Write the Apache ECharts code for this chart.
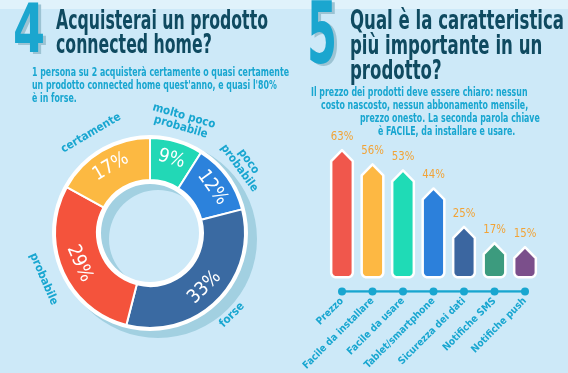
<!DOCTYPE html>
<html>
<head>
<meta charset="utf-8">
<script src="https://cdn.jsdelivr.net/npm/echarts@6/dist/echarts.min.js"></script>
<style>
html,body{margin:0;padding:0;background:#cde9f8;}
#chart{width:568px;height:373px;}
</style>
</head>
<body>
<div id="chart"></div>
<script>
// ---- Donut data (question 4) ----
const donutNames = ['molto poco\nprobabile', 'poco\nprobabile', 'forse', 'probabile', 'certamente'];
const donutValues = [9, 12, 33, 29, 17];
const donutColors = ['#22d8b6', '#2c82dc', '#3a6aa2', '#f4533c', '#fcb942'];

// ---- Bar data (question 5) ----
const barCategories = ['Prezzo', 'Facile da installare', 'Facile da usare', 'Tablet/smartphone', 'Sicurezza dei dati', 'Notifiche SMS', 'Notifiche push'];
const barValues = [63, 56, 53, 44, 25, 17, 15];
const barColors = ['#f0574c', '#fdb843', '#1fdbb6', '#2c80db', '#3b66a0', '#3c9b7e', '#7b4f8b'];

// ---- Texts ----
const title4 = ['Acquisterai un prodotto', 'connected home?'];
const sub4 = ['1 persona su 2 acquisterà certamente o quasi certamente', 'un prodotto connected home quest\'anno, e quasi l\'80%', 'è in forse.'];
const title5 = ['Qual è la caratteristica', 'più importante in un', 'prodotto?'];
const sub5 = ['Il prezzo dei prodotti deve essere chiaro: nessun', 'costo nascosto, nessun abbonamento mensile,', 'prezzo onesto. La seconda parola chiave', 'è FACILE, da installare e usare.'];

// ---- font selection (prefer a condensed face, like the original) ----
const mctx = document.createElement('canvas').getContext('2d');
function tw(text, font) { mctx.font = font; return mctx.measureText(text).width; }
function hasFont(name) {
  const s = 'mmmmmmmmmmlliWWW certamente 0123';
  return tw(s, '40px monospace') !== tw(s, '40px "' + name + '", monospace') ||
         tw(s, '40px serif') !== tw(s, '40px "' + name + '", serif');
}
const condensed = ['Liberation Sans Narrow', 'DejaVu Sans Condensed', 'Roboto Condensed', 'Open Sans Condensed'].find(hasFont);
const FONT = (condensed ? '"' + condensed + '",' : '') + 'Roboto,"Noto Sans",sans-serif';

const CYAN = '#18a6d0';
const DARK = '#0f4a60';
const Y_MIN = -7;

function fitScale(text, font, target) { return target / tw(text, font); }

const chart = echarts.init(document.getElementById('chart'), null, {renderer: 'canvas'});

const F4 = 'bold 68px ' + FONT, F5 = 'bold 86px ' + FONT;
const s4 = fitScale('4', F4, 32), s5 = fitScale('5', F5, 30);
const graphics = [
  {type: 'rect', shape: {x: 0, y: 0, width: 568, height: 9}, style: {fill: '#e0f2fb'}, silent: true},
  {type: 'text', x: 16, y: 36, scaleX: s4, style: {text: '4', font: F4, fill: '#9cc3d3', verticalAlign: 'middle'}},
  {type: 'text', x: 13, y: 34, scaleX: s4, style: {text: '4', font: F4, fill: '#1ba6cf', verticalAlign: 'middle'}},
  {type: 'text', x: 310, y: 43, scaleX: s5, style: {text: '5', font: F5, fill: '#9cc3d3', verticalAlign: 'middle'}},
  {type: 'text', x: 307, y: 41, scaleX: s5, style: {text: '5', font: F5, fill: '#1ba6cf', verticalAlign: 'middle'}}
];
const TF4 = 'bold 26px ' + FONT, TF5 = 'bold 27px ' + FONT, SF = 'bold 11.5px ' + FONT;
const ts4 = fitScale(title4[0], TF4, 212);
const ts5 = fitScale(title5[0], TF5, 214);
const ss = fitScale(sub4[0], SF, 257);
title4.forEach((t, i) => graphics.push({type: 'text', x: 56, y: 22 + i * 24, scaleX: ts4, style: {text: t, font: TF4, fill: DARK, verticalAlign: 'middle'}}));
sub4.forEach((t, i) => graphics.push({type: 'text', x: 32, y: 73 + i * 13, scaleX: ss, style: {text: t, font: SF, fill: CYAN, verticalAlign: 'middle'}}));
title5.forEach((t, i) => graphics.push({type: 'text', x: 350, y: 22 + i * 25, scaleX: ts5, style: {text: t, font: TF5, fill: DARK, verticalAlign: 'middle'}}));
const sub5X = [311, 321, 360, 378];
sub5.forEach((t, i) => graphics.push({type: 'text', x: sub5X[i], y: 93 + i * 13, scaleX: ss, style: {text: t, font: SF, fill: CYAN, verticalAlign: 'middle'}}));

const donutData = donutValues.map((v, i) => ({name: donutNames[i], value: v, itemStyle: {color: donutColors[i]}}));

function renderArrow(params, api) {
  const idx = api.value(0);
  const val = api.value(1);
  const base = api.coord([idx, 0]);
  const top = api.coord([idx, val]);
  const w = api.size([1, 0])[0] * 0.71;
  const tip = 11, r = 5;
  const cx = base[0], x0 = cx - w / 2, x1 = cx + w / 2, yb = base[1], yt = top[1];
  const pts = [[cx, yt], [x1, yt + tip], [x1, yb - r]];
  for (let k = 1; k < 6; k++) { const a = k / 6 * Math.PI / 2; pts.push([x1 - r + r * Math.cos(a), yb - r + r * Math.sin(a)]); }
  pts.push([x0 + r, yb]);
  for (let k = 1; k < 6; k++) { const a = Math.PI / 2 + k / 6 * Math.PI / 2; pts.push([x0 + r + r * Math.cos(a), yb - r + r * Math.sin(a)]); }
  pts.push([x0, yb - r], [x0, yt + tip]);
  return {
    type: 'group',
    children: [
      {type: 'polygon', shape: {points: pts}, style: {fill: barColors[idx], stroke: '#fff', lineWidth: 2.5, lineJoin: 'round'}},
      {type: 'text', x: cx, y: yt - 7, scaleX: 0.9, style: {text: val + '%', font: '12.5px ' + FONT, fill: '#f2a336', align: 'center', verticalAlign: 'bottom'}}
    ]
  };
}

const option = {
  backgroundColor: '#cde9f8',
  animation: false,
  graphic: graphics,
  grid: {left: 342, right: 43, top: 136, bottom: 75},
  xAxis: {
    type: 'category', data: barCategories, boundaryGap: false,
    axisLine: {show: false}, axisTick: {show: false},
    axisLabel: {rotate: 45, margin: 8, color: CYAN, fontFamily: FONT, fontWeight: 'bold', fontSize: 10, interval: 0}
  },
  yAxis: {type: 'value', min: Y_MIN, max: 70, show: false},
  series: [
    {type: 'pie', silent: true, center: [158, 239], radius: [49, 99], startAngle: 90,
     label: {show: false}, labelLine: {show: false}, data: [{value: 1, itemStyle: {color: '#a2d0e1'}}]},
    {type: 'pie', silent: true, center: [150, 233], radius: [49, 98], startAngle: 90,
     label: {show: false}, labelLine: {show: false}, data: [{value: 1, itemStyle: {color: '#ffffff'}}]},
    {type: 'pie', silent: true, center: [150, 233], radius: [53, 95], startAngle: 90, clockwise: true,
     itemStyle: {borderColor: '#fff', borderWidth: 2},
     label: {show: true, position: 'inside', rotate: 'tangential', formatter: '{c}%', color: '#fff', fontFamily: FONT, fontSize: 19},
     labelLine: {show: false}, data: donutData},
    {type: 'pie', silent: true, center: [150, 233], radius: [104, 122], startAngle: 90, clockwise: true,
     itemStyle: {color: 'rgba(0,0,0,0)'},
     label: {show: true, position: 'inside', rotate: 'tangential', formatter: '{b}', color: CYAN, fontFamily: FONT, fontWeight: 'bold', fontSize: 11.5, lineHeight: 11.5},
     labelLine: {show: false}, data: donutValues.map((v, i) => ({name: donutNames[i], value: v}))},
    {type: 'line', data: barCategories.map(c => [c, Y_MIN]), symbol: 'circle', symbolSize: 8,
     lineStyle: {color: CYAN, width: 2.5}, itemStyle: {color: CYAN}, silent: true, z: 1},
    {type: 'custom', renderItem: renderArrow, data: barValues.map((v, i) => [i, v]), z: 3}
  ]
};
chart.setOption(option);
</script>
</body>
</html>
